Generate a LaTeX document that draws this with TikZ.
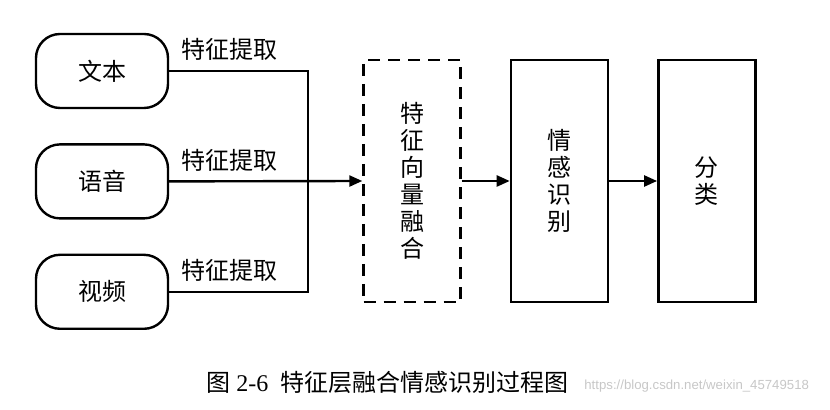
\documentclass[tikz,border=0pt]{standalone}
\usepackage{fontspec}
\setmainfont{Liberation Serif}
\newfontfamily\cjk{Noto Sans CJK SC}
\newfontfamily\wmfont{Liberation Sans}
\usetikzlibrary{positioning,arrows.meta}
\tikzset{
  src/.style={draw,line width=1.2pt,rounded corners=12pt,minimum width=66pt,minimum height=37pt,font=\cjk\fontsize{12}{14}\selectfont},
  stage/.style={draw,line width=1.2pt,minimum width=48.5pt,minimum height=121pt,align=center,font=\cjk\fontsize{12}{13.5}\selectfont},
  dstage/.style={stage,dash pattern=on 6pt off 4pt},
  conn/.style={line width=1.2pt},
  arr/.style={-{Triangle[length=6.5pt,width=5.5pt]},line width=1.2pt},
  lbl/.style={font=\cjk\fontsize{12}{14}\selectfont,inner sep=0pt}
}

\begin{document}
\begin{tikzpicture}[x=0.5pt,y=-0.5pt]
\useasboundingbox (0,0) rectangle (830,410);

\node[src] (text) at (102,71) {文本};
\node[src, below=17pt of text] (speech) {语音};
\node[src, below=17pt of speech] (video) {视频};

\node[dstage] (fuse) at (412,181) {特\\征\\向\\量\\融\\合};
\node[stage, right=24pt of fuse] (emo) {情\\感\\识\\别};
\node[stage, right=24pt of emo] (cls) {分\\类};

\coordinate (jn) at (308,0 |- speech.east);
\draw[conn] (text.east) -| (jn);
\draw[conn] (video.east) -| (jn);
\draw[arr] (speech.east) -- (fuse.west);
\draw[arr] (fuse) -- (emo);
\draw[arr] (emo) -- (cls);

\node[lbl, above right=5pt and 6pt of text.east] (ext1) {特征提取};
\node[lbl, above right=5pt and 6pt of speech.east] (ext2) {特征提取};
\node[lbl, above right=5pt and 6pt of video.east] (ext3) {特征提取};

\node[font=\fontsize{12}{14}\selectfont, anchor=west, inner sep=0pt] (cap) at (206,382) {{\cjk 图} 2-6\enspace{\cjk 特征层融合情感识别过程图}};
\node[font=\wmfont\fontsize{6.6}{8}\selectfont, text=black!22, anchor=west, inner sep=0pt] (wm) at (584,386) {https://blog.csdn.net/weixin\_45749518};
\end{tikzpicture}
\end{document}
